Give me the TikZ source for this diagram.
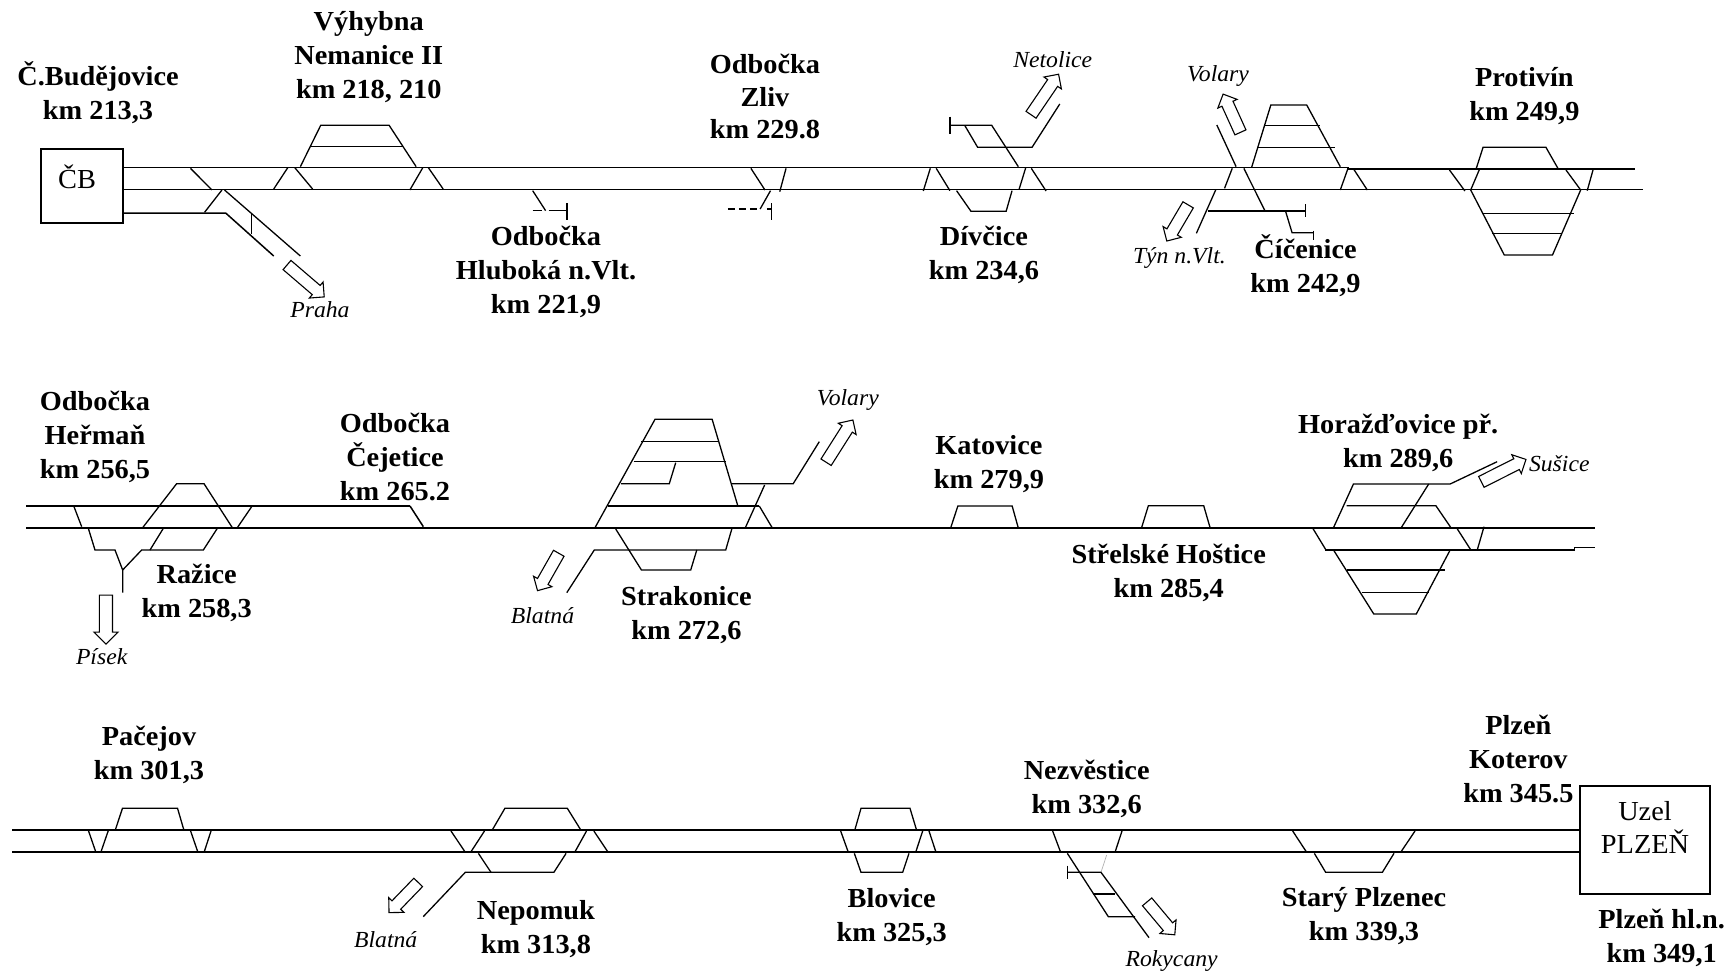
\documentclass[tikz,border=0pt]{standalone}
\usepackage{fontspec}
\setmainfont[FakeStretch=1.03]{Liberation Serif}
\usetikzlibrary{shapes.arrows}
\newcommand\shft{\rule{0pt}{11pt}}
\newcommand\shftw{\rule{0pt}{12pt}}
\tikzset{
  x=1pt,y=-1pt,
  trk/.style={line width=1.5pt,line join=miter},
  lk/.style={line width=1.3pt,line join=miter},
  stn/.style={font=\fontsize{27.5}{34}\selectfont\bfseries,align=center,inner sep=0pt},
  plain/.style={font=\fontsize{27.5}{33}\selectfont,align=center,inner sep=0pt},
  dest/.style={font=\fontsize{23}{26}\selectfont\itshape,inner sep=0pt},
  harrow/.style={draw,line width=1.1pt,fill=white,single arrow,single arrow head indent=0pt,
    inner sep=0pt,single arrow head extend=4.5pt,minimum height=#1},
  harrow/.default=45pt
}
\begin{document}
\begin{tikzpicture}
\path[use as bounding box] (0,0) rectangle (1735,972);
% ---- tracks
\draw[trk] (123,167.3) -- (1348,167.3) -- (1348,169) -- (1635,169);
\draw[trk] (123,189.7) -- (1643,189.7);
\draw[trk] (26,506) -- (410,506);
\draw[trk] (26,528) -- (1595,528);
\draw[trk] (12,830) -- (1580,830);
\draw[trk] (12,852) -- (1580,852);
% ---- boxes
\node[draw,line width=1.4pt,minimum width=82pt,minimum height=74pt,inner sep=0pt] (boxcb) at (82,186) {};
\node[plain] (cb) at (77,177) {ČB};
\node[draw,line width=1.4pt,minimum width=130pt,minimum height=108pt,inner sep=0pt] (boxpl) at (1645,840) {};
\node[plain] (uzel) at (1645,827) {Uzel\\PLZEŇ};
% ---- zoom 1
\begin{scope}[shift={(0,0)},xscale=0.3699,yscale=0.33333]
\draw[trk] (333,639) -- (610,639) -- (740,768);
\draw[lk] (515,505) -- (573,570);
\draw[lk] (553,637) -- (600,570);
\draw[lk] (607,570) -- (812,768);
\draw[lk] (680,640) -- (680,702);
\draw[lk] (812,500) -- (867,376) -- (1052,376) -- (1125,500);
\draw[lk] (842,440) -- (1090,440);
\draw[lk] (740,567) -- (778,503);
\draw[lk] (797,503) -- (845,567);
\draw[lk] (1108,570) -- (1143,503);
\draw[lk] (1158,503) -- (1198,567);
\draw[lk] (1440,572) -- (1475,632);
\draw[lk] (1440,632) -- (1465,632);
\draw[lk] (1483,632) -- (1533,632);
\draw[lk] (1533,610) -- (1533,660);
\node[harrow=49pt,rotate=-40.6] (apraha) at (820,837) {\shft};
\node[dest] (praha) at (865,930) {Praha};
\node[stn] (budejovice) at (265,278) {Č.Budějovice\\km 213,3};
\node[stn] (nemanice) at (997,171) {Výhybna\\Nemanice II\\km 218, 210};
\end{scope}
\node[stn] (hluboka) at (546,272) {Odbočka\\Hluboká n.Vlt.\\km 221,9};
% ---- zoom 2
\begin{scope}[shift={(580,30)},xscale=0.3699,yscale=0.33333]
\draw[lk] (462,415) -- (500,480);
\draw[lk] (557,415) -- (540,485);
\draw[lk] (515,482) -- (487,537);
\draw[lk,dash pattern=on 7pt off 4pt] (400,537) -- (487,537);
\draw[lk] (505,537) -- (517,537);
\draw[lk] (517,520) -- (517,570);
\draw[lk] (928,483) -- (947,415);
\draw[lk] (963,415) -- (1000,482);
\draw[lk] (1018,482) -- (1057,544) -- (1152,544) -- (1168,482);
\draw[lk] (1187,478) -- (1205,413);
\draw[lk] (1220,415) -- (1260,483);
\draw[lk] (1185,410) -- (1113,286) -- (1000,286);
\draw[lk] (1000,260) -- (1000,312);
\draw[lk] (1040,286) -- (1075,352) -- (1222,352) -- (1297,222);
\node[harrow=49pt,rotate=55.8] (anetolice) at (1252,201) {\shft};
\node[dest] (netolice) at (1278,90) {Netolice};
\node[stn,font=\fontsize{27.5}{32.5}\selectfont\bfseries] (zliv) at (500,200) {Odbočka\\Zliv\\km 229.8};
\node[stn] (divcice) at (1092,676) {Dívčice\\km 234,6};
\end{scope}
% ---- zoom 3
\begin{scope}[shift={(1130,40)},xscale=0.38584,yscale=0.33333]
\draw[lk] (315,383) -- (365,195) -- (458,195) -- (545,380);
\draw[lk] (350,256) -- (492,256);
\draw[lk] (330,322) -- (530,322);
\draw[lk] (245,445) -- (265,385);
\draw[lk] (225,255) -- (275,380);
\draw[lk] (295,385) -- (350,513);
\draw[lk] (222,450) -- (172,580);
\draw[lk] (203,513) -- (455,513);
\draw[lk] (455,493) -- (455,530);
\draw[lk] (403,513) -- (420,578) -- (475,578);
\draw[lk] (475,572) -- (475,600);
\draw[lk] (545,450) -- (565,385);
\draw[lk] (580,388) -- (615,450);
\draw[lk] (897,387) -- (915,322) -- (1078,322) -- (1110,387);
\draw[lk] (828,390) -- (868,453);
\draw[lk] (905,390) -- (883,450) -- (970,645) -- (1095,645) -- (1168,450);
\draw[lk] (915,520) -- (1150,520);
\draw[lk] (938,580) -- (1117,580);
\draw[lk] (1130,390) -- (1168,450);
\draw[lk] (1200,390) -- (1185,452);
\node[harrow=42pt,rotate=114.4] (avolary) at (267,228) {\shft};
\node[harrow=42pt,rotate=239.5] (atyn) at (127,541) {\shft};
\node[dest] (volary) at (228,109) {Volary};
\node[dest] (tyn) at (128,654) {Týn n.Vlt.};
\node[stn] (cicenice) at (455,677) {Číčenice\\km 242,9};
\node[stn] (protivin) at (1022,169) {Protivín\\km 249,9};
\end{scope}
% ---- zoom 4
\begin{scope}[shift={(0,380)},xscale=0.33333,yscale=0.33333]
\draw[lk] (428,443) -- (530,311) -- (612,311) -- (697,443);
\draw[lk] (222,380) -- (245,440);
\draw[lk] (265,445) -- (285,510) -- (345,510) -- (368,570) -- (368,638);
\draw[lk] (368,570) -- (425,510) -- (610,510) -- (652,445);
\draw[lk] (450,510) -- (490,445);
\draw[lk] (712,443) -- (755,380);
\draw[trk] (1230,378) -- (1270,440);
\node[harrow=49pt,rotate=270,single arrow head extend=5.5pt] (apisek) at (318,709) {\shftw};
\node[dest] (pisek) at (305,830) {Písek};
\node[stn] (herman) at (285,171) {Odbočka\\Heřmaň\\km 256,5};
\node[stn] (razice) at (590,638) {Ražice\\km 258,3};
\node[stn] (cejetice) at (1185,230) {Odbočka\\Čejetice\\km 265.2};
\end{scope}
% ---- zoom 5
\begin{scope}[shift={(480,380)},xscale=0.35714,yscale=0.33333]
\draw[lk] (322,443) -- (490,118) -- (650,118) -- (722,378);
\draw[lk] (452,185) -- (665,185);
\draw[lk] (430,245) -- (688,245);
\draw[lk] (395,311) -- (530,311) -- (548,248);
\draw[lk] (358,378) -- (782,378);
\draw[lk] (705,311) -- (877,311) -- (950,185);
\draw[lk] (797,315) -- (743,443);
\draw[lk] (782,378) -- (818,443);
\draw[lk] (380,447) -- (452,570) -- (590,570) -- (607,510);
\draw[lk] (243,638) -- (320,510) -- (688,510) -- (705,447);
\draw[lk] (1318,443) -- (1338,378) -- (1490,378) -- (1507,443);
\node[harrow=50pt,rotate=57.6] (avolary2) at (1002,191) {\shft};
\node[harrow=43pt,rotate=240.4] (ablatna) at (195,568) {\shft};
\node[dest] (volary2) at (1030,61) {Volary};
\node[dest] (blatna) at (175,708) {Blatná};
\node[stn] (strakonice) at (578,705) {Strakonice\\km 272,6};
\node[stn] (katovice) at (1425,253) {Katovice\\km 279,9};
\end{scope}
% ---- zoom 6
\begin{scope}[shift={(1040,400)},xscale=0.37628,yscale=0.33333]
\draw[lk] (270,383) -- (288,317) -- (435,317) -- (452,383);
\draw[lk] (780,383) -- (833,252) -- (1090,252) -- (1215,185);
\draw[lk] (960,383) -- (1033,252);
\draw[lk] (815,317) -- (1052,317) -- (1092,383);
\draw[lk] (1108,385) -- (1145,450);
\draw[lk] (1180,380) -- (1162,450);
\draw[lk] (725,385) -- (760,450);
\draw[trk] (757,450) -- (1420,450) -- (1420,443) -- (1475,443);
\draw[lk] (780,450) -- (887,642) -- (1000,642) -- (1090,450);
\draw[lk] (815,510) -- (1075,510);
\draw[lk] (855,577) -- (1035,577);
\node[harrow=50pt,rotate=26.7] (asusice) at (1225,216) {\shft};
\node[dest] (susice) at (1380,190) {Sušice};
\node[stn] (strelske) at (342,519) {Střelské Hoštice\\km 285,4};
\node[stn] (horazdovice) at (952,130) {Horažďovice př.\\km 289,6};
\end{scope}
% ---- zoom 7
\begin{scope}[shift={(0,700)},xscale=0.40816,yscale=0.33333]
\draw[lk] (283,388) -- (300,325) -- (435,325) -- (450,388);
\draw[lk] (217,393) -- (235,457);
\draw[lk] (265,393) -- (247,457);
\draw[lk] (467,393) -- (485,457);
\draw[lk] (517,393) -- (500,457);
\draw[lk] (1105,393) -- (1140,457);
\draw[lk] (1187,393) -- (1153,457);
\draw[lk] (1207,388) -- (1237,325) -- (1390,325) -- (1422,388);
\draw[lk] (1437,393) -- (1408,457);
\draw[lk] (1455,393) -- (1490,457);
\draw[lk] (1172,460) -- (1203,517);
\draw[lk] (1387,460) -- (1357,517) -- (1140,517) -- (1037,650);
\node[harrow=42pt,rotate=226] (ablatna2) at (994,586) {\shft};
\node[dest] (blatna2) at (945,720) {Blatná};
\node[stn] (pacejov) at (365,165) {Pačejov\\km 301,3};
\node[stn] (nepomuk) at (1313,686) {Nepomuk\\km 313,8};
\end{scope}
% ---- zoom 8
\begin{scope}[shift={(800,710)},xscale=0.33333,yscale=0.33333]
\draw[lk] (165,358) -- (183,295) -- (330,295) -- (349,358);
\draw[lk] (122,363) -- (145,427);
\draw[lk] (368,363) -- (347,427);
\draw[lk] (387,363) -- (408,427);
\draw[lk] (163,430) -- (183,487) -- (308,487) -- (327,430);
\draw[lk] (758,363) -- (782,427);
\draw[lk] (966,363) -- (945,427);
\draw[lk] (802,430) -- (925,620) -- (1005,620);
\draw[line width=0.7pt,gray!60] (920,435) -- (903,487);
\draw[lk] (803,487) -- (903,487) -- (1047,683);
\draw[lk] (803,467) -- (803,507);
\draw[lk] (880,552) -- (945,552);
\node[harrow=43pt,rotate=-50] (arokycany) at (1077,618) {\shft};
\node[dest] (rokycany) at (1115,754) {Rokycany};
\node[stn] (blovice) at (275,621) {Blovice\\km 325,3};
\node[stn] (nezvestice) at (860,236) {Nezvěstice\\km 332,6};
\end{scope}
% ---- zoom 9
\begin{scope}[shift={(1270,700)},xscale=0.33333,yscale=0.33333]
\draw[lk] (68,393) -- (110,457);
\draw[lk] (133,460) -- (167,517) -- (337,517) -- (372,460);
\draw[lk] (392,457) -- (435,393);
\node[stn] (stary) at (282,649) {Starý Plzenec\\km 339,3};
\node[stn] (koterov) at (745,178) {Plzeň\\Koterov\\km 345.5};
\node[stn] (hlavni) at (1175,714) {Plzeň hl.n.\\km 349,1};
\end{scope}
\end{tikzpicture}
\end{document}
